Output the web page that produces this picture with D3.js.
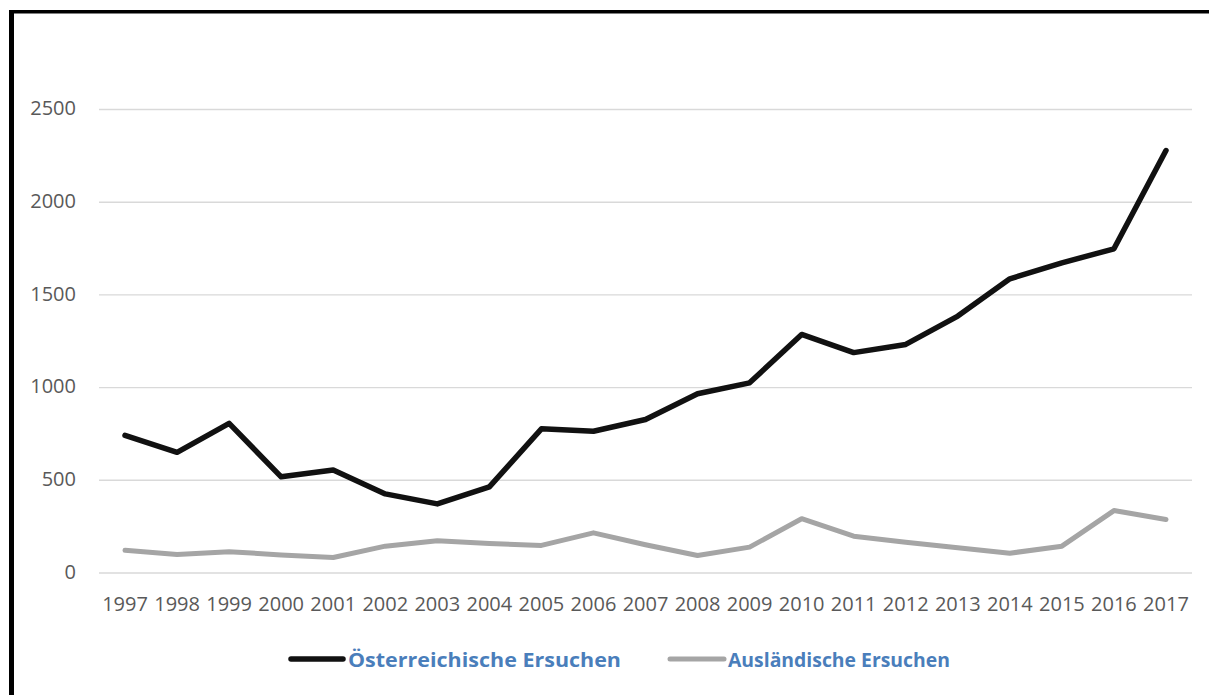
<!DOCTYPE html>
<html>
<head>
<meta charset="utf-8">
<script src="https://cdn.jsdelivr.net/npm/d3@7"></script>
<style>
  body { margin: 0; background: #fff; }
  svg { display: block; }
  .axis text { font-family: "Open Sans", sans-serif; font-size: 20px; fill: #595959; }
  .legend text { font-family: "Open Sans", sans-serif; font-size: 20px; font-weight: bold; fill: #4a7ebb; }
</style>
</head>
<body>
<div id="chart"></div>
<script>
(function () {

  var years = ['1997', '1998', '1999', '2000', '2001', '2002', '2003', '2004', '2005', '2006',
    '2007', '2008', '2009', '2010', '2011', '2012', '2013', '2014', '2015', '2016', '2017']

  var oesterreich = [740, 648, 804, 516, 553, 424, 370, 462, 775, 762,
    825, 964, 1023, 1284, 1186, 1230, 1383, 1584, 1670, 1746, 2276]

  var ausland = [120, 97, 112, 95, 81, 142, 171, 156, 146, 214,
    150, 92, 137, 290, 196, 163, 133, 104, 142, 334, 286]

  var yTicks = [0, 500, 1000, 1500, 2000, 2500]

  var seriesNames = ['Österreichische Ersuchen', 'Ausländische Ersuchen']

  var width = 1209, height = 695

  var svg = d3.select('#chart').append('svg')
    .attr('width', width)
    .attr('height', height)

  var xPositionScale = d3.scaleBand()
    .domain(years)
    .range([99, 1192])

  var yPositionScale = d3.scaleLinear()
    .domain([0, 2500])
    .range([572.5, 109])

  // gridlines + y labels
  var yAxis = d3.axisLeft(yPositionScale)
    .tickValues(yTicks)
    .tickFormat(d3.format('d'))
    .tickSize(-(1192 - 99))
    .tickPadding(23)
  svg.append('g')
    .attr('class', 'axis y-axis')
    .attr('transform', 'translate(99,0)')
    .call(yAxis)
  svg.select('.y-axis .domain').remove()
  svg.selectAll('.y-axis line')
    .attr('stroke', '#d9d9d9')
    .attr('stroke-width', 1.4)
  svg.selectAll('.y-axis text').attr('dy', '0.28em')

  var xAxis = d3.axisBottom(xPositionScale)
    .tickSize(0)
    .tickPadding(24)
  svg.append('g')
    .attr('class', 'axis x-axis')
    .attr('transform', 'translate(0,572.5)')
    .call(xAxis)
  svg.select('.x-axis .domain').remove()

  var line = d3.line()
    .x(function (d, i) { return xPositionScale(years[i]) + xPositionScale.bandwidth() / 2 })
    .y(function (d) { return yPositionScale(d) })

  svg.append('path')
    .datum(ausland)
    .attr('d', line)
    .attr('fill', 'none')
    .attr('stroke', '#a5a5a5')
    .attr('stroke-width', 5)
    .attr('stroke-linecap', 'round')
    .attr('stroke-linejoin', 'round')

  svg.append('path')
    .datum(oesterreich)
    .attr('d', line)
    .attr('fill', 'none')
    .attr('stroke', '#111111')
    .attr('stroke-width', 5.5)
    .attr('stroke-linecap', 'round')
    .attr('stroke-linejoin', 'round')

  // legend
  var legend = svg.append('g').attr('class', 'legend')
  var legendItems = [
    { name: seriesNames[0], color: '#111111', x1: 291, x2: 343, tx: 348, tl: 273, w: 5.5 },
    { name: seriesNames[1], color: '#a5a5a5', x1: 670, x2: 724, tx: 728, tl: 222, w: 5 }
  ]
  legendItems.forEach(function (d) {
    legend.append('line')
      .attr('x1', d.x1).attr('x2', d.x2)
      .attr('y1', 659).attr('y2', 659)
      .attr('stroke', d.color)
      .attr('stroke-width', d.w)
      .attr('stroke-linecap', 'round')
    legend.append('text')
      .attr('x', d.tx)
      .attr('y', 667)
      .attr('textLength', d.tl)
      .attr('lengthAdjust', 'spacingAndGlyphs')
      .text(d.name)
  })

  // frame (left + top)
  svg.append('line')
    .attr('x1', 11.5).attr('x2', 11.5)
    .attr('y1', 10).attr('y2', height)
    .attr('stroke', '#000').attr('stroke-width', 5)
  svg.append('line')
    .attr('x1', 9).attr('x2', width)
    .attr('y1', 11.7).attr('y2', 11.7)
    .attr('stroke', '#000').attr('stroke-width', 3.4)

})()
</script>
</body>
</html>
